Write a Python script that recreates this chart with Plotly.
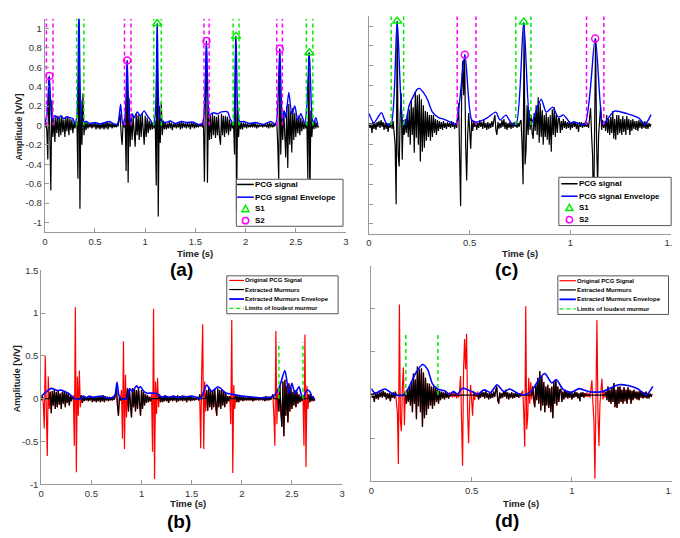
import numpy as np
import plotly.graph_objects as go

W, H = 680, 538
FONT = "Liberation Sans, Arial, sans-serif"

# ------------------------------------------------------------------
# DATA  -- recording 1 (panels a, b), sampled every 10 ms
# ------------------------------------------------------------------
dt_ab = 0.01
pcg_ab = [
    -0.02, 0.03, -0.05, -0.35, 0.50, -0.20, -0.67, 0.26, -0.12, 0.08,
    -0.17, 0.09, -0.08, 0.10, -0.12, 0.08, -0.10, 0.10, -0.07, 0.06,
    -0.12, 0.08, -0.06, 0.09, -0.10, 0.07, -0.05, 0.06, -0.08, 0.03,
    -0.03, 0.02, 0.04, -0.55, 1.07, -0.86, 0.26, -0.20, 0.33, -0.10,
    0.04, -0.05, 0.03, -0.03, 0.02, -0.02, 0.02, -0.03, 0.02, -0.02,
    0.03, -0.04, 0.02, -0.03, 0.02, -0.04, 0.02, -0.03, 0.03, -0.04,
    0.03, -0.03, 0.04, -0.04, 0.03, -0.02, 0.02, -0.03, 0.02, -0.02,
    0.01, -0.02, 0.01, -0.01, 0.05, 0.12, -0.08, -0.20, 0.03, -0.02,
    0.10, -0.47, 0.67, -0.59, 0.28, -0.22, 0.12, -0.15, 0.10, -0.12,
    -0.22, 0.12, -0.10, 0.11, -0.15, 0.10, -0.12, 0.12, -0.10, -0.20,
    0.10, -0.12, 0.08, -0.08, 0.05, -0.05, 0.04, -0.04, 0.02, -0.03,
    0.05, -0.62, 1.05, -0.94, 0.20, -0.18, 0.24, -0.10, 0.05, -0.04,
    0.03, -0.04, 0.02, -0.03, 0.04, -0.03, 0.03, -0.05, 0.02, -0.02,
    0.02, -0.03, 0.02, -0.02, 0.03, -0.04, 0.04, -0.03, 0.03, -0.02,
    0.02, -0.03, 0.03, -0.02, 0.02, -0.04, 0.03, -0.02, 0.03, -0.03,
    0.02, -0.02, 0.01, -0.02, 0.01, -0.01, 0.02, -0.02, 0.05, -0.58,
    0.30, 0.87, -0.59, 0.20, -0.15, 0.10, -0.14, 0.12, -0.10, 0.10,
    -0.13, 0.09, -0.10, 0.11, -0.12, -0.20, 0.12, -0.10, 0.10, -0.12,
    0.10, -0.08, 0.09, -0.10, 0.06, -0.06, 0.03, -0.03, 0.03, -0.30,
    0.92, -0.87, 0.16, -0.12, 0.05, -0.04, 0.03, -0.04, 0.03, -0.02,
    0.02, -0.03, 0.02, -0.02, 0.01, -0.02, 0.02, -0.02, 0.03, -0.02,
    0.02, -0.03, 0.01, -0.02, 0.01, -0.01, 0.01, -0.02, 0.01, -0.01,
    0.01, -0.02, 0.02, -0.03, 0.03, -0.02, 0.02, -0.02, 0.01, -0.01,
    0.02, 0.05, -0.20, -0.55, 0.79, -0.30, 0.12, -0.15, 0.15, -0.18,
    -0.33, 0.20, -0.44, 0.22, -0.20, 0.15, -0.28, 0.18, -0.15, 0.13,
    -0.12, 0.08, -0.08, 0.10, -0.10, 0.08, -0.06, 0.05, -0.04, 0.03,
    -0.03, 0.04, -0.55, 0.75, -0.80, 0.15, -0.12, 0.05, -0.04, 0.05,
    -0.03, 0.03, -0.02, -0.01]

# PCG envelope (t, value)
env_ab = [(0.00, 0.02), (0.02, 0.1), (0.045, 0.51), (0.065, 0.1), (0.075, 0.05), (0.10, 0.1),
          (0.12, 0.09), (0.135, 0.07), (0.16, 0.1), (0.19, 0.07), (0.22, 0.09), (0.25, 0.08),
          (0.28, 0.07), (0.30, 0.02), (0.32, 0.1), (0.34, 1.2), (0.36, 0.15), (0.38, 0.04),
          (0.41, 0.04), (0.45, 0.02), (0.50, 0.03), (0.55, 0.015), (0.60, 0.03), (0.64, 0.04),
          (0.68, 0.02), (0.72, 0.01), (0.735, 0.05), (0.755, 0.22), (0.77, 0.05), (0.78, 0.01),
          (0.80, 0.1), (0.82, 0.67), (0.84, 0.1), (0.855, 0.03), (0.87, 0.12), (0.89, 0.08),
          (0.92, 0.14), (0.95, 0.1), (0.99, 0.15), (1.02, 0.1), (1.05, 0.06), (1.08, 0.01),
          (1.10, 0.1), (1.12, 1.05), (1.14, 0.1), (1.16, 0.04), (1.20, 0.03), (1.25, 0.045),
          (1.30, 0.02), (1.36, 0.04), (1.42, 0.03), (1.47, 0.035), (1.53, 0.01), (1.57, 0.02),
          (1.59, 0.2), (1.61, 0.87), (1.63, 0.15), (1.64, 0.1), (1.66, 0.12), (1.68, 0.13),
          (1.72, 0.12), (1.76, 0.14), (1.82, 0.14), (1.85, 0.06), (1.88, 0.02), (1.89, 0.2),
          (1.905, 0.92), (1.92, 0.2), (1.94, 0.04), (1.98, 0.04), (2.04, 0.02), (2.10, 0.03),
          (2.18, 0.01), (2.25, 0.04), (2.30, 0.01), (2.32, 0.2), (2.34, 0.79), (2.36, 0.15),
          (2.37, 0.05), (2.385, 0.15), (2.40, 0.08), (2.43, 0.34), (2.46, 0.12), (2.49, 0.2),
          (2.52, 0.05), (2.55, 0.12), (2.59, 0.02), (2.61, 0.2), (2.635, 0.75), (2.66, 0.1),
          (2.675, 0.02), (2.70, 0.08), (2.72, 0.0)]

s1_ab_t = [0.34, 1.12, 1.905, 2.635]
s1_ab_v = [1.2, 1.05, 0.92, 0.75]
s2_ab_t = [0.045, 0.82, 1.61, 2.34]
s2_ab_v = [0.51, 0.67, 0.87, 0.79]
s1_ab_lim = [(0.317, 0.389), (1.085, 1.16), (1.876, 1.935), (2.605, 2.67)]
s2_ab_lim = [(0.016, 0.082), (0.794, 0.859), (1.585, 1.637), (2.31, 2.366)]
sound_seg_ab = [(0.015, 0.085), (0.315, 0.395), (0.795, 0.855), (1.095, 1.175),
                (1.585, 1.645), (1.885, 1.935), (2.315, 2.365), (2.615, 2.665)]

# murmur envelope (t, value)
mur_env_ab = [(0.0, 0.03), (0.05, 0.08), (0.10, 0.12), (0.13, 0.11), (0.16, 0.095), (0.20, 0.1),
              (0.24, 0.08), (0.27, 0.065), (0.31, 0.02), (0.34, 0.0), (0.40, 0.0), (0.42, 0.03),
              (0.45, 0.01), (0.48, 0.03), (0.52, 0.015), (0.56, 0.025), (0.60, 0.03), (0.65, 0.01),
              (0.70, 0.01), (0.735, 0.04), (0.755, 0.19), (0.775, 0.04), (0.80, 0.0), (0.855, 0.0),
              (0.88, 0.115), (0.91, 0.085), (0.95, 0.15), (0.97, 0.125), (0.99, 0.14), (1.02, 0.09),
              (1.05, 0.065), (1.10, 0.065), (1.15, 0.06), (1.20, 0.015), (1.23, 0.03), (1.27, 0.015),
              (1.32, 0.03), (1.37, 0.01), (1.41, 0.03), (1.45, 0.02), (1.49, 0.03), (1.54, 0.02),
              (1.58, 0.0), (1.60, 0.02), (1.65, 0.16), (1.70, 0.085), (1.76, 0.14), (1.79, 0.12),
              (1.84, 0.065), (1.89, 0.055), (1.93, 0.045), (2.0, 0.03), (2.1, 0.02), (2.2, 0.01),
              (2.28, 0.015), (2.32, 0.03), (2.35, 0.08), (2.38, 0.15), (2.43, 0.33), (2.47, 0.065),
              (2.50, 0.18), (2.53, 0.06), (2.57, 0.14), (2.60, 0.03), (2.62, 0.03), (2.65, 0.1),
              (2.68, 0.08), (2.70, 0.02), (2.73, 0.0)]
loud_lim_ab = (2.37, 2.61)
loud_top_ab = 0.66

# ------------------------------------------------------------------
# DATA  -- recording 2 (panels c, d), sampled every 5 ms
# ------------------------------------------------------------------
dt_cd = 0.005
pcg_cd = [
    0.02, -0.03, 0.02, -0.08, 0.03, -0.04, 0.02, -0.05, 0.03, -0.02, 0.04, -0.03, 0.05, -0.02, 0.03, -0.05, 0.02, -0.04, 0.02, -0.07,
    0.02, -0.03, 0.03, -0.04, 0.04, -0.06, -0.20, -0.80, 1.05, -0.30, -0.42, 0.10, 0.32, -0.35, 0.05, -0.10, 0.06, -0.08, 0.10, -0.12,
    0.16, -0.20, 0.25, -0.10, 0.18, -0.28, 0.33, -0.13, 0.30, -0.20, 0.31, -0.37, 0.26, -0.27, 0.20, -0.23, 0.14, -0.16, 0.13, -0.12,
    0.10, -0.16, 0.10, -0.12, 0.10, -0.08, 0.06, -0.10, 0.05, -0.06, 0.04, -0.04, 0.03, -0.05, 0.04, -0.03, 0.02, -0.04, 0.03, -0.02,
    0.02, -0.03, 0.04, -0.02, 0.03, -0.04, 0.02, -0.03, 0.05, 0.22, -0.20, -0.82, 0.30, 0.65, 0.30, 0.71, -0.20, -0.56, -0.10, 0.12,
    -0.05, -0.24, 0.05, -0.06, 0.03, -0.02, 0.04, -0.05, 0.02, -0.03, 0.05, -0.02, 0.03, -0.04, 0.05, -0.03, 0.02, -0.05, 0.03, -0.04,
    0.02, -0.03, 0.04, -0.02, 0.05, 0.10, -0.05, -0.10, 0.03, -0.04, 0.02, -0.03, 0.05, -0.02, 0.06, -0.04, 0.03, -0.05, 0.02, -0.03,
    0.03, -0.04, 0.02, -0.03, 0.03, -0.02, 0.02, -0.03, 0.02, -0.02, 0.03, 0.05, -0.20, -0.60, 1.03, -0.40, -0.25, 0.20, -0.10, 0.15,
    -0.05, 0.10, -0.08, -0.14, 0.12, -0.06, 0.20, -0.10, 0.28, -0.18, 0.22, -0.12, 0.15, -0.20, 0.10, -0.12, 0.12, -0.15, 0.08, -0.20,
    0.10, -0.27, 0.16, -0.10, 0.18, -0.12, 0.10, -0.08, 0.06, 0.07, -0.08, 0.04, -0.05, 0.06, -0.03, 0.04, -0.04, 0.03, -0.03, 0.04,
    -0.05, 0.02, -0.03, 0.04, -0.02, 0.03, -0.04, 0.02, -0.07, 0.03, -0.02, 0.03, -0.03, 0.02, -0.02, 0.03, -0.02, 0.02, -0.03, 0.05,
    0.17, -0.10, -0.30, -0.97, 0.30, 0.87, -0.20, -0.59, -0.10, 0.10, 0.19, -0.05, 0.05, -0.03, 0.04, -0.06, 0.10, -0.08, 0.06, -0.10,
    0.08, -0.08, 0.14, -0.14, 0.06, -0.15, 0.10, -0.10, 0.10, -0.08, 0.06, -0.10, 0.09, -0.07, 0.06, -0.10, 0.09, -0.05, 0.06, -0.10,
    0.05, -0.06, 0.06, -0.04, 0.04, -0.05, 0.04, -0.06, 0.05, -0.03, 0.04, -0.04, 0.03, -0.03, 0.04, -0.04, 0.02, -0.04, 0.02, -0.02,
    0.01]

env_cd = [(0.0, 0.115), (0.024, 0.02), (0.045, 0.08), (0.062, 0.125), (0.08, 0.04), (0.09, 0.005),
          (0.11, 0.01), (0.14, 1.05), (0.17, 0.01), (0.18, 0.005), (0.20, 0.2), (0.24, 0.36),
          (0.25, 0.37), (0.27, 0.33), (0.29, 0.26), (0.315, 0.13), (0.35, 0.07), (0.37, 0.06),
          (0.405, 0.03), (0.43, 0.005), (0.476, 0.71), (0.51, 0.05), (0.535, 0.03), (0.585, 0.07),
          (0.63, 0.13), (0.65, 0.05), (0.68, 0.1), (0.706, 0.02), (0.73, 0.005), (0.768, 1.04),
          (0.80, 0.01), (0.81, 0.03), (0.855, 0.26), (0.88, 0.13), (0.912, 0.18), (0.94, 0.08),
          (0.966, 0.1), (1.0, 0.02), (1.02, 0.03), (1.07, 0.005), (1.123, 0.875), (1.16, 0.01),
          (1.17, 0.02), (1.218, 0.14), (1.28, 0.115), (1.34, 0.07), (1.37, 0.005), (1.40, 0.105)]

s1_cd_t = [0.14, 0.768]
s1_cd_v = [1.05, 1.04]
s2_cd_t = [0.476, 1.123]
s2_cd_v = [0.71, 0.875]
s1_cd_lim = [(0.11, 0.172), (0.729, 0.804)]
s2_cd_lim = [(0.438, 0.531), (1.08, 1.166)]
sound_seg_cd = [(0.122, 0.172), (0.39, 0.53), (0.745, 0.80), (1.07, 1.165)]

mur_env_cd = [(0.0, 0.075), (0.02, 0.02), (0.045, 0.05), (0.07, 0.07), (0.095, 0.03), (0.12, 0.0),
              (0.16, 0.0), (0.19, 0.1), (0.22, 0.25), (0.255, 0.355), (0.28, 0.3), (0.305, 0.13),
              (0.33, 0.07), (0.365, 0.05), (0.39, 0.01), (0.41, 0.04), (0.43, 0.01), (0.455, 0.08),
              (0.5, 0.04), (0.53, 0.01), (0.562, 0.06), (0.595, 0.03), (0.627, 0.12), (0.66, 0.04),
              (0.69, 0.07), (0.73, 0.02), (0.76, 0.0), (0.80, 0.05), (0.835, 0.18), (0.865, 0.25),
              (0.9, 0.14), (0.922, 0.18), (0.955, 0.07), (0.996, 0.03), (1.037, 0.075), (1.086, 0.04),
              (1.15, 0.04), (1.233, 0.12), (1.28, 0.11), (1.33, 0.07), (1.37, 0.0), (1.404, 0.1)]
loud_lim_cd = (0.172, 0.332)
loud_top_cd = 0.72

# axis ticks
x_ticks_ab = [0, 0.5, 1, 1.5, 2, 2.5, 3]
x_labels_ab = ["0", "0.5", "1", "1.5", "2", "2.5", "3"]
x_ticks_cd = [0, 0.5, 1, 1.5]
x_labels_cd = ["0", "0.5", "1", "1.5"]
y_ticks_top = [-1, -0.8, -0.6, -0.4, -0.2, 0, 0.2, 0.4, 0.6, 0.8, 1]
y_labels_top = ["-1", "-0.8", "-0.6", "-0.4", "-0.2", "0", "0.2", "0.4", "0.6", "0.8", "1"]
y_ticks_bot = [-1, -0.5, 0, 0.5, 1, 1.5]
y_labels_bot = ["-1", "-0.5", "0", "0.5", "1", "1.5"]
seg_top = 1.1

# ------------------------------------------------------------------
t_ab = np.round(np.arange(len(pcg_ab)) * dt_ab, 4)
t_cd = np.round(np.arange(len(pcg_cd)) * dt_cd, 4)


def zero_sounds(t, v, segs):
    return [0.0 if any(a - 1e-9 <= ti <= b + 1e-9 for a, b in segs) else vi for ti, vi in zip(t, v)]


mur_ab = zero_sounds(t_ab, pcg_ab, sound_seg_ab)
mur_cd = zero_sounds(t_cd, pcg_cd, sound_seg_cd)


def vlines(lims, top):
    xs, ys = [], []
    for a, b in lims:
        xs += [a, a, None, b, b, None]
        ys += [0, top, None, 0, top, None]
    return xs, ys


def unzip(pairs):
    return [p[0] for p in pairs], [p[1] for p in pairs]


GREEN = "#00ee00"
MAG = "#ff00ff"
BLUE = "#0000ff"
RED = "#ff0000"
DASH = "4px,3px"

fig = go.Figure()


def add(tr, n):
    s = "" if n == 1 else str(n)
    tr.update(xaxis="x" + s, yaxis="y" + s)
    fig.add_trace(tr)


for n, t, sig, env, s1t, s1v, s2t, s2v, l1, l2 in [
        (1, t_ab, pcg_ab, env_ab, s1_ab_t, s1_ab_v, s2_ab_t, s2_ab_v, s1_ab_lim, s2_ab_lim),
        (2, t_cd, pcg_cd, env_cd, s1_cd_t, s1_cd_v, s2_cd_t, s2_cd_v, s1_cd_lim, s2_cd_lim)]:
    add(go.Scatter(x=t, y=sig, mode="lines", line=dict(color="black", width=1.2)), n)
    et, ev = unzip(env)
    add(go.Scatter(x=et, y=ev, mode="lines",
                   line=dict(color=BLUE, width=1.4, shape="spline", smoothing=0.7)), n)
    gx, gy = vlines(l1, seg_top)
    add(go.Scatter(x=gx, y=gy, mode="lines", line=dict(color=GREEN, width=1.5, dash=DASH)), n)
    mx, my = vlines(l2, seg_top)
    add(go.Scatter(x=mx, y=my, mode="lines", line=dict(color=MAG, width=1.5, dash=DASH)), n)
    add(go.Scatter(x=s1t, y=s1v, mode="markers",
                   marker=dict(symbol="triangle-up-open", size=8, color=GREEN,
                               line=dict(width=1.5, color=GREEN))), n)
    add(go.Scatter(x=s2t, y=s2v, mode="markers",
                   marker=dict(symbol="circle-open", size=7, color=MAG,
                               line=dict(width=1.5, color=MAG))), n)

for n, t, sig, mur, menv, lim, top in [
        (3, t_ab, pcg_ab, mur_ab, mur_env_ab, loud_lim_ab, loud_top_ab),
        (4, t_cd, pcg_cd, mur_cd, mur_env_cd, loud_lim_cd, loud_top_cd)]:
    add(go.Scatter(x=t, y=sig, mode="lines", line=dict(color=RED, width=1.2)), n)
    add(go.Scatter(x=t, y=mur, mode="lines", line=dict(color="black", width=1.2)), n)
    et, ev = unzip(menv)
    add(go.Scatter(x=et, y=ev, mode="lines",
                   line=dict(color=BLUE, width=1.6, shape="spline", smoothing=0.7)), n)
    gx, gy = vlines([lim], top)
    add(go.Scatter(x=gx, y=gy, mode="lines", line=dict(color=GREEN, width=1.5, dash=DASH)), n)


# ------------------------------------------------------------------
# layout helpers (pixel -> paper)
def px(x):
    return x / W


def py(y):
    return 1 - y / H


TICKFONT = dict(family=FONT, size=9.5, color="#333")


def axstyle(**kw):
    d = dict(showline=True, linecolor="#999", linewidth=1, ticks="inside", ticklen=4,
             tickcolor="#999", tickwidth=1, showgrid=False, zeroline=False, mirror=False,
             tickfont=TICKFONT)
    d.update(kw)
    return d


# panel boxes in pixels: (x0, x1, ytop, ybottom)
box = {1: (34.3, 340.0, 4.8, 222.7), 2: (363.3, 670.0, 2.2, 224.4),
       3: (30.7, 336.0, 261.7, 480.0), 4: (365.7, 671.0, 257.0, 477.0)}
lay = {}
for n, (x0, x1, yt, yb) in box.items():
    s = "" if n == 1 else str(n)
    if n in (1, 3):
        xr, xt, xl = [0, 3], x_ticks_ab, x_labels_ab
    else:
        xr, xt, xl = [0, 1.5], x_ticks_cd, x_labels_cd
    if n in (1, 2):
        yr, yt_, yl = [-1.1, 1.1], y_ticks_top, y_labels_top
    else:
        yr, yt_, yl = [-1, 1.5], y_ticks_bot, y_labels_bot
    lay["xaxis" + s] = axstyle(domain=[px(x0), px(x1)], range=xr, tickvals=xt, ticktext=xl,
                               anchor="y" + s)
    lay["yaxis" + s] = axstyle(domain=[py(yb), py(yt)], range=yr, tickvals=yt_, ticktext=yl,
                               anchor="x" + s, showticklabels=(n in (1, 3)))

fig.update_layout(width=W, height=H, margin=dict(l=0, r=0, t=0, b=0),
                  paper_bgcolor="white", plot_bgcolor="white", showlegend=False, **lay)

annotations = []
shapes = []


def text(x, y, s, size, bold=True, color="black", xanchor="center", angle=0):
    annotations.append(dict(x=px(x), y=py(y), xref="paper", yref="paper", text=s,
                            showarrow=False, xanchor=xanchor, yanchor="middle",
                            textangle=angle, borderpad=0, borderwidth=0,
                            font=dict(family=FONT, size=size, color=color,
                                      weight="bold" if bold else "normal")))


# axis titles and panel labels
for (x, y) in [(186.7, 244), (516.7, 244.5), (180, 500), (518, 500)]:
    text(x, y, "Time (s)", 9.5, color="#222")
for (x, y) in [(8, 115), (6, 372)]:
    text(x, y, "Amplitude [V/V]", 9, color="#222", angle=-90)
for (x, y, s) in [(173, 261, "(a)"), (503, 261, "(c)"), (170, 518, "(b)"), (503, 517, "(d)")]:
    text(x, y, s, 19)


# manual legends
def legend(bx0, bx1, by0, by1, rows, lx0, lx1, tx, entries, size):
    shapes.append(dict(type="rect", xref="paper", yref="paper", x0=px(bx0), x1=px(bx1),
                       y0=py(by1), y1=py(by0), line=dict(color="#555", width=1),
                       fillcolor="white", layer="above"))
    for ry, (kind, col, lab, w) in zip(rows, entries):
        cx = (lx0 + lx1) / 2
        if kind == "line" or kind == "dash":
            shapes.append(dict(type="line", xref="paper", yref="paper", x0=px(lx0), x1=px(lx1),
                               y0=py(ry), y1=py(ry), layer="above",
                               line=dict(color=col, width=w, dash=DASH if kind == "dash" else "solid")))
        elif kind == "tri":
            r = 3.6
            path = "M {} {} L {} {} L {} {} Z".format(px(cx - r), py(ry + r * 0.8), px(cx + r),
                                                     py(ry + r * 0.8), px(cx), py(ry - r))
            shapes.append(dict(type="path", xref="paper", yref="paper", path=path, layer="above",
                               line=dict(color=col, width=w)))
        elif kind == "circ":
            r = 3.2
            shapes.append(dict(type="circle", xref="paper", yref="paper", x0=px(cx - r), x1=px(cx + r),
                               y0=py(ry + r), y1=py(ry - r), layer="above",
                               line=dict(color=col, width=w)))
        text(tx, ry, lab, size, xanchor="left")


top_entries = [("line", "black", "PCG signal", 1.5), ("line", BLUE, "PCG signal Envelope", 1.5),
               ("tri", GREEN, "S1", 1.5), ("circ", MAG, "S2", 1.5)]
bot_entries = [("line", RED, "Original PCG Signal", 1.2), ("line", "black", "Extracted Murmurs", 1.2),
               ("line", BLUE, "Extracted Murmurs Envelope", 1.8),
               ("dash", GREEN, "Limits of loudest murmur", 1.3)]

legend(228.7, 337, 168.7, 216.7, [174, 187, 199, 211], 229.5, 246.5, 247.5, top_entries, 8)
legend(556, 670, 166.7, 216, [173.3, 186, 197.8, 210], 558.5, 575, 576, top_entries, 8)
legend(219, 332, 267.3, 306, [272, 281.3, 291, 300.5], 221.5, 236.5, 237.3, bot_entries, 6)
legend(555, 667.3, 267.3, 306.7, [272.3, 281.7, 291.3, 301], 556.7, 573.3, 574.3, bot_entries, 6)

fig.update_layout(annotations=annotations, shapes=shapes)
fig.write_html("out.html")
